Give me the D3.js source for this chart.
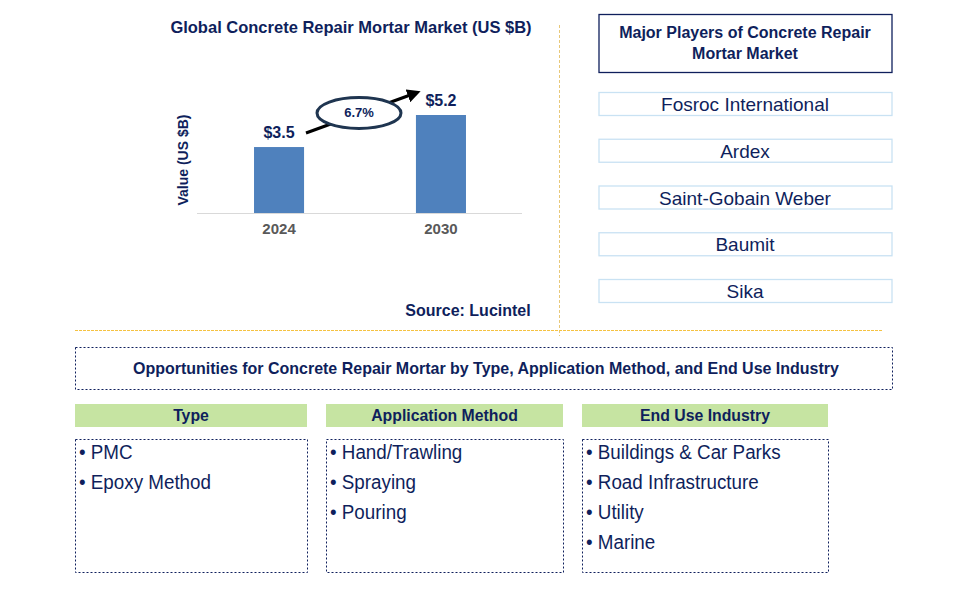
<!DOCTYPE html>
<html><head><meta charset="utf-8">
<script src="https://cdn.jsdelivr.net/npm/d3@7"></script>
<style>body{margin:0;background:#fff}svg{display:block}</style>
</head><body><div id="c"></div>
<script>
const years = ["2024", "2030"];
const values = [3.5, 5.2];
const valueLabels = ["$3.5", "$5.2"];
const cagr = "6.7%";
const players = ["Fosroc International", "Ardex", "Saint-Gobain Weber", "Baumit", "Sika"];
const segHeaders = ["Type", "Application Method", "End Use Industry"];
const typeItems = ["PMC", "Epoxy Method"];
const appItems = ["Hand/Trawling", "Spraying", "Pouring"];
const endUseItems = ["Buildings & Car Parks", "Road Infrastructure", "Utility", "Marine"];

const W = 957, H = 593;
const navy = "#0f1f5c";
const svg = d3.select("#c").append("svg").attr("width", W).attr("height", H);
const sans = "Arial, 'Liberation Sans', sans-serif";

function condense(sel, f) {
  sel.each(function () {
    const L = this.getComputedTextLength();
    d3.select(this).attr("textLength", L * f).attr("lengthAdjust", "spacingAndGlyphs");
  });
}

// Title
svg.append("text").attr("x", 351).attr("y", 33).attr("text-anchor", "middle")
  .attr("font-family", sans).attr("font-weight", "bold").attr("font-size", 16.5).attr("fill", navy)
  .text("Global Concrete Repair Mortar Market (US $B)");

// Scales
const x = d3.scaleBand().domain(years).range([198, 522]).paddingInner(0.691).paddingOuter(0.346);
const y = d3.scaleLinear().domain([0, 5.2]).range([213, 115]);

svg.selectAll("rect.bar").data(values).join("rect").attr("class", "bar")
  .attr("x", (d, i) => x(years[i])).attr("width", x.bandwidth())
  .attr("y", d => y(d)).attr("height", d => y(0) - y(d)).attr("fill", "#4f81bd");

svg.append("line").attr("x1", 197).attr("x2", 522).attr("y1", y(0) + 0.5).attr("y2", y(0) + 0.5)
  .attr("stroke", "#d9d9d9").attr("stroke-width", 1);

const xAxis = svg.append("g").attr("transform", `translate(0,${y(0)})`)
  .call(d3.axisBottom(x).tickSize(0).tickPadding(10));
xAxis.select(".domain").remove();
xAxis.selectAll("text").attr("font-family", sans).attr("font-weight", "bold").attr("font-size", 15).attr("fill", "#595959");

svg.selectAll("text.vl").data(values).join("text").attr("class", "vl")
  .attr("x", (d, i) => x(years[i]) + x.bandwidth() / 2).attr("y", d => y(d) - 9)
  .attr("text-anchor", "middle").attr("font-family", sans).attr("font-weight", "bold")
  .attr("font-size", 16).attr("fill", navy).text((d, i) => valueLabels[i]);

svg.append("text").attr("transform", "translate(188,160) rotate(-90)").attr("text-anchor", "middle")
  .attr("font-family", sans).attr("font-weight", "bold").attr("font-size", 14).attr("fill", navy)
  .text("Value (US $B)");

// arrow
const defs = svg.append("defs");
defs.append("marker").attr("id", "ah").attr("viewBox", "0 0 10 10").attr("refX", 4).attr("refY", 5)
  .attr("markerWidth", 4.5).attr("markerHeight", 4.5).attr("orient", "auto")
  .append("path").attr("d", "M0,0 L10,5 L0,10 Z").attr("fill", "#000");
svg.append("line").attr("x1", 306).attr("y1", 133).attr("x2", 413).attr("y2", 94)
  .attr("stroke", "#000").attr("stroke-width", 3).attr("marker-end", "url(#ah)");
svg.append("ellipse").attr("cx", 359).attr("cy", 113).attr("rx", 42).attr("ry", 15.5)
  .attr("fill", "#fff").attr("stroke", "#1f3550").attr("stroke-width", 3);
svg.append("text").attr("x", 359).attr("y", 117).attr("text-anchor", "middle")
  .attr("font-family", sans).attr("font-weight", "bold").attr("font-size", 13).attr("fill", navy).text(cagr);

svg.append("text").attr("x", 468).attr("y", 316).attr("text-anchor", "middle")
  .attr("font-family", sans).attr("font-weight", "bold").attr("font-size", 16).attr("fill", navy)
  .text("Source: Lucintel");

// dividers
svg.append("line").attr("x1", 559.5).attr("x2", 559.5).attr("y1", 25).attr("y2", 336)
  .attr("stroke", "#e8c878").attr("stroke-width", 1).attr("stroke-dasharray", "3,2");
svg.append("line").attr("x1", 75).attr("x2", 882).attr("y1", 330.5).attr("y2", 330.5)
  .attr("stroke", "#f5c242").attr("stroke-width", 1).attr("stroke-dasharray", "3,1");

// players
svg.append("rect").attr("x", 599).attr("y", 14.5).attr("width", 293).attr("height", 58)
  .attr("fill", "none").attr("stroke", navy).attr("stroke-width", 1.3);
const ph = svg.append("text").attr("text-anchor", "middle").attr("font-family", sans)
  .attr("font-weight", "bold").attr("font-size", 16).attr("fill", navy);
ph.append("tspan").attr("x", 745).attr("y", 38).text("Major Players of Concrete Repair");
ph.append("tspan").attr("x", 745).attr("y", 59).text("Mortar Market");

const py = d3.scalePoint().domain(players).range([104, 291]);
players.forEach(p => {
  svg.append("rect").attr("x", 599).attr("y", py(p) - 11.5).attr("width", 293).attr("height", 23)
    .attr("fill", "none").attr("stroke", "#c9e2f3").attr("stroke-width", 1.3);
  svg.append("text").attr("x", 745).attr("y", py(p) + 7).attr("text-anchor", "middle")
    .attr("font-family", sans).attr("font-size", 19).attr("fill", navy).text(p);
});

// opportunities
svg.append("rect").attr("x", 75.5).attr("y", 347.5).attr("width", 817).attr("height", 42)
  .attr("fill", "none").attr("stroke", navy).attr("stroke-width", 1).attr("stroke-dasharray", "2,2");
svg.append("text").attr("x", 486).attr("y", 374).attr("text-anchor", "middle")
  .attr("font-family", sans).attr("font-weight", "bold").attr("font-size", 17).attr("fill", navy)
  .text("Opportunities for Concrete Repair Mortar by Type, Application Method, and End Use Industry")
  .call(condense, 0.94);

const cols = [
  {x: 75, w: 232, items: typeItems},
  {x: 326, w: 237, items: appItems},
  {x: 582, w: 246, items: endUseItems}
];
cols.forEach((c, i) => {
  svg.append("rect").attr("x", c.x).attr("y", 404).attr("width", c.w).attr("height", 23).attr("fill", "#c6e4a2");
  svg.append("text").attr("x", c.x + c.w / 2).attr("y", 421).attr("text-anchor", "middle")
    .attr("font-family", sans).attr("font-weight", "bold").attr("font-size", 17).attr("fill", navy)
    .text(segHeaders[i]).call(condense, 0.93);
  svg.append("rect").attr("x", c.x + 0.5).attr("y", 439.5).attr("width", c.w).attr("height", 133)
    .attr("fill", "none").attr("stroke", navy).attr("stroke-width", 1).attr("stroke-dasharray", "2,2");
  c.items.forEach((t, j) => {
    svg.append("text").attr("x", c.x + 4).attr("y", 459 + j * 30)
      .attr("font-family", sans).attr("font-size", 20).attr("fill", navy).text("\u2022 " + t)
      .call(condense, 0.94);
  });
});
</script></body></html>
